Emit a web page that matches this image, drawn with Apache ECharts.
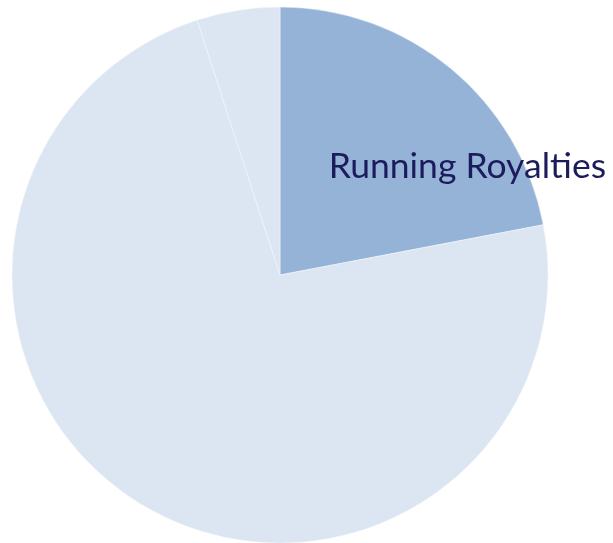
<!DOCTYPE html>
<html><head><meta charset="utf-8">
<script src="https://cdn.jsdelivr.net/npm/echarts@6/dist/echarts.min.js"></script>
<style>html,body{margin:0;padding:0;background:#fff}#c{width:613px;height:543px}</style>
</head><body><div id="c"></div>
<script>
const categories = ['Running Royalties', 'Other', 'Upfront'];
const values = [22, 73, 5];
const colors = ['#95b3d7', '#dce6f2', '#dce6f2'];
const chart = echarts.init(document.getElementById('c'));
chart.setOption({
  animation: false,
  series: [{
    type: 'pie',
    center: [280, 275],
    radius: 268,
    startAngle: 90,
    clockwise: true,
    silent: true,
    itemStyle: { borderColor: '#f4f7fb', borderWidth: 0.5 },
    labelLine: { show: false },
    data: categories.map((n, i) => ({
      name: n, value: values[i],
      itemStyle: { color: colors[i] },
      label: i === 0 ? {
        show: true, position: 'inside', formatter: '{b}',
        fontFamily: 'Lato', fontSize: 35.5, color: '#1c1c5c',
        offset: [100, -3]
      } : { show: false }
    }))
  }]
});
</script></body></html>
